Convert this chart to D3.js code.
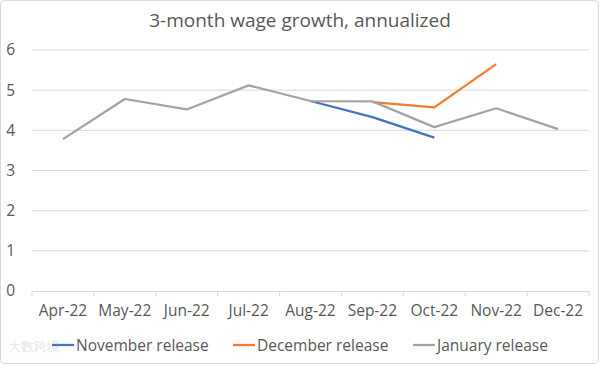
<!DOCTYPE html>
<html>
<head>
<meta charset="utf-8">
<script src="https://cdn.jsdelivr.net/npm/d3@7"></script>
<style>
  body { margin: 0; background: #fff; }
  text { font-family: "Open Sans", "Liberation Sans", sans-serif; fill: #595959; }
</style>
</head>
<body>
<svg width="600" height="365"></svg>
<script>
const months = ["Apr-22", "May-22", "Jun-22", "Jul-22", "Aug-22", "Sep-22", "Oct-22", "Nov-22", "Dec-22"];
const novRelease = [null, null, null, null, 4.73, 4.33, 3.82, null, null];
const decRelease = [null, null, null, null, null, 4.70, 4.57, 5.65, null];
const janRelease = [3.78, 4.78, 4.52, 5.12, 4.73, 4.72, 4.08, 4.55, 4.03];
const yTicks = [0, 1, 2, 3, 4, 5, 6];

const series = [
  { name: "November release", values: novRelease, color: "#4472C4" },
  { name: "December release", values: decRelease, color: "#ED7D31" },
  { name: "January release", values: janRelease, color: "#A5A5A5" }
];

const svg = d3.select("svg");

// chart border
svg.append("rect")
  .attr("x", 0.5).attr("y", 0.5)
  .attr("width", 598).attr("height", 363)
  .attr("rx", 4)
  .attr("fill", "#fff")
  .attr("stroke", "#D9D9D9");

const plotLeft = 32, plotRight = 589, plotTop = 50, plotBottom = 291;

const x = d3.scaleBand().domain(months).range([plotLeft, plotRight]);
const y = d3.scaleLinear().domain([0, 6]).range([plotBottom, plotTop]);

// title
svg.append("text")
  .attr("x", 300).attr("y", 27)
  .attr("text-anchor", "middle")
  .style("font-size", "19px")
  .text("3-month wage growth, annualized");

// gridlines
svg.append("g")
  .selectAll("line")
  .data(yTicks.filter(d => d > 0))
  .join("line")
  .attr("x1", plotLeft).attr("x2", plotRight)
  .attr("y1", d => y(d)).attr("y2", d => y(d))
  .attr("stroke", "#D9D9D9");

// y axis
const yAxis = svg.append("g")
  .attr("transform", `translate(${plotLeft}, 0)`)
  .call(d3.axisLeft(y).tickValues(yTicks).tickFormat(d3.format("d")).tickSize(0).tickPadding(17));
yAxis.select(".domain").remove();
yAxis.selectAll("text").style("font-size", "15.5px").attr("fill", "#595959").attr("font-family", null);

// x axis
const xAxis = svg.append("g")
  .attr("transform", `translate(0, ${plotBottom})`)
  .call(d3.axisBottom(x).tickSize(0).tickPadding(14));
xAxis.select(".domain").attr("stroke", "#D9D9D9");
xAxis.selectAll("text").style("font-size", "15.5px").attr("fill", "#595959").attr("font-family", null);
xAxis.selectAll(".sep")
  .data(d3.range(months.length + 1))
  .join("line")
  .attr("x1", i => plotLeft + i * x.step()).attr("x2", i => plotLeft + i * x.step())
  .attr("y1", 0).attr("y2", 5)
  .attr("stroke", "#D9D9D9");

// lines
const line = d3.line()
  .defined(d => d.v != null)
  .x(d => x(d.m) + x.bandwidth() / 2)
  .y(d => y(d.v));

series.forEach(s => {
  svg.append("path")
    .datum(months.map((m, i) => ({ m, v: s.values[i] })))
    .attr("fill", "none")
    .attr("stroke", s.color)
    .attr("stroke-width", 2.25)
    .attr("stroke-linejoin", "round")
    .attr("d", line);
});

// watermark
svg.append("text")
  .attr("x", 8).attr("y", 351)
  .style("font-size", "13px")
  .style("fill", "#E6E6E6")
  .text("大数跨境");

// legend
const legendX = [52, 233, 413];
const legend = svg.append("g");
series.forEach((s, i) => {
  legend.append("line")
    .attr("x1", legendX[i]).attr("x2", legendX[i] + 22)
    .attr("y1", 345).attr("y2", 345)
    .attr("stroke", s.color)
    .attr("stroke-width", 2.25);
  legend.append("text")
    .attr("x", legendX[i] + 24).attr("y", 351)
    .style("font-size", "15.5px")
    .text(s.name);
});
</script>
</body>
</html>
